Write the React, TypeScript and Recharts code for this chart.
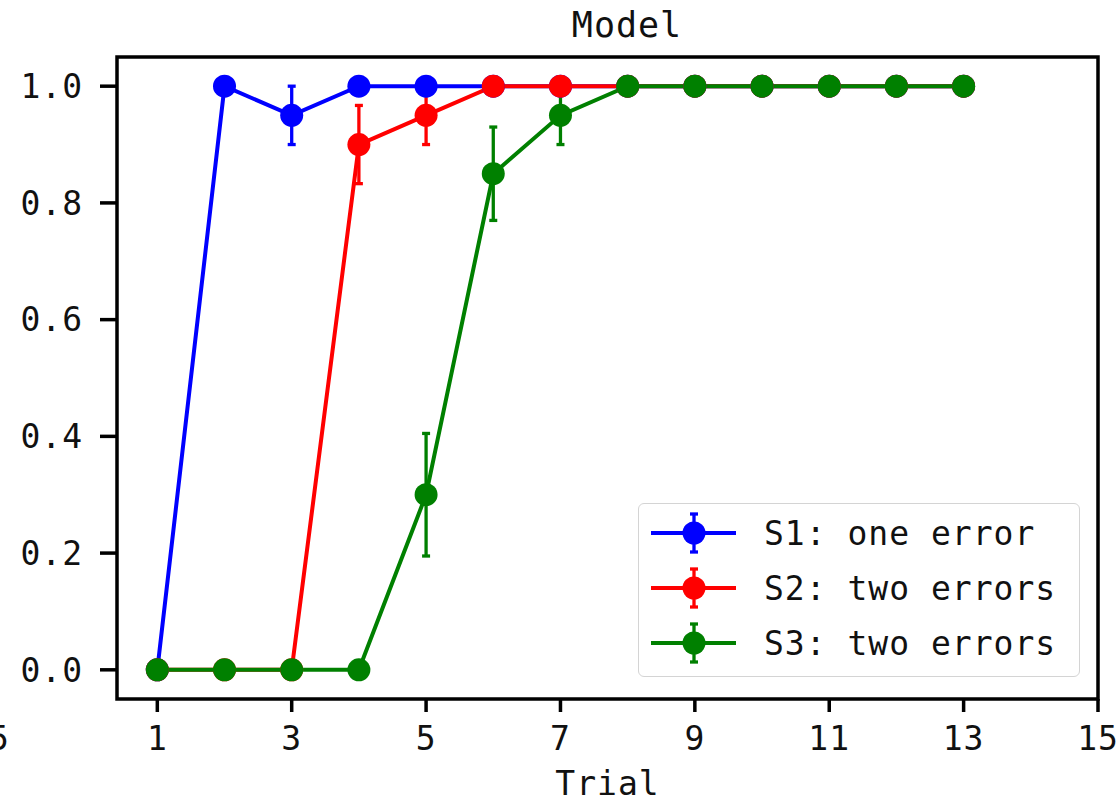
import React from 'react';
import { LineChart, Line, XAxis, YAxis, ErrorBar, ReferenceArea, Legend } from 'recharts';

const trials = [1, 2, 3, 4, 5, 6, 7, 8, 9, 10, 11, 12, 13];
const s1Values = [0, 1, 0.95, 1, 1, 1, 1, 1, 1, 1, 1, 1, 1];
const s1Errors = [0, 0, 0.05, 0, 0, 0, 0, 0, 0, 0, 0, 0, 0];
const s2Values = [0, 0, 0, 0.9, 0.95, 1, 1, 1, 1, 1, 1, 1, 1];
const s2Errors = [0, 0, 0, 0.067, 0.05, 0, 0, 0, 0, 0, 0, 0, 0];
const s3Values = [0, 0, 0, 0, 0.3, 0.85, 0.95, 1, 1, 1, 1, 1, 1];
const s3Errors = [0, 0, 0, 0, 0.105, 0.08, 0.05, 0, 0, 0, 0, 0, 0];

const xTicks = [1, 3, 5, 7, 9, 11, 13, 15];
const yTicks = [0, 0.2, 0.4, 0.6, 0.8, 1.0];

const series = [
  { key: 's1', err: 'e1', name: 'S1: one error', color: '#0000ff' },
  { key: 's2', err: 'e2', name: 'S2: two errors', color: '#ff0000' },
  { key: 's3', err: 'e3', name: 'S3: two errors', color: '#008000' },
];

const data = trials.map((t, i) => ({
  trial: t,
  s1: s1Values[i],
  e1: s1Errors[i],
  s2: s2Values[i],
  e2: s2Errors[i],
  s3: s3Values[i],
  e3: s3Errors[i],
}));

const FONT = '"DejaVu Sans Mono", monospace';
const tickStyle = { fill: '#111', fontSize: 33, fontFamily: FONT, letterSpacing: 1 };

function LegendBox({ payload }: any) {
  return (
    <div
      style={{
        boxSizing: 'border-box',
        width: 442,
        height: 174,
        border: '1.5px solid #d4d4d4',
        borderRadius: 6,
        background: 'rgba(255,255,255,0.85)',
        paddingTop: 2,
      }}
    >
      {(payload || []).map((entry: any) => (
        <div key={entry.value} style={{ display: 'flex', alignItems: 'center', height: 55 }}>
          <svg width={125} height={55}>
            <line x1={12} x2={97} y1={27} y2={27} stroke={entry.color} strokeWidth={4} />
            <line x1={55} x2={55} y1={8} y2={46} stroke={entry.color} strokeWidth={3.3} />
            <line x1={51} x2={59} y1={8} y2={8} stroke={entry.color} strokeWidth={3.3} />
            <line x1={51} x2={59} y1={46} y2={46} stroke={entry.color} strokeWidth={3.3} />
            <circle cx={55} cy={27} r={11.5} fill={entry.color} />
          </svg>
          <span style={{ fontFamily: FONT, fontSize: 33, letterSpacing: 1, color: '#111' }}>
            {entry.value}
          </span>
        </div>
      ))}
    </div>
  );
}

export default function App() {
  return (
    <div
      style={{
        position: 'absolute',
        left: 0,
        top: 0,
        width: 1119,
        height: 804,
        overflow: 'hidden',
        background: '#fff',
        fontFamily: FONT,
      }}
    >
      <div
        style={{
          position: 'absolute',
          left: 527,
          top: 8,
          width: 200,
          textAlign: 'center',
          fontSize: 35,
          lineHeight: '35px',
          letterSpacing: 1,
          color: '#111',
        }}
      >
        Model
      </div>
      <div
        style={{
          position: 'absolute',
          left: -40,
          top: 722,
          width: 50,
          textAlign: 'right',
          fontSize: 33,
          lineHeight: '33px',
          letterSpacing: 1,
          color: '#111',
        }}
      >
        15
      </div>
      <LineChart width={1119} height={804} data={data} margin={{ top: 57, right: 21, bottom: 0, left: 0 }}>
        <XAxis
          dataKey="trial"
          type="number"
          domain={[0.4, 15]}
          allowDataOverflow
          ticks={xTicks}
          interval={0}
          height={105}
          axisLine={false}
          tickLine={{ stroke: '#000', strokeWidth: 3.5 }}
          tickSize={13}
          tickMargin={15}
          tick={tickStyle}
          label={{ value: 'Trial', position: 'insideBottom', offset: 9, style: { ...tickStyle, fill: '#111' } }}
        />
        <YAxis
          type="number"
          domain={[-0.05, 1.05]}
          allowDataOverflow
          ticks={yTicks}
          interval={0}
          width={117}
          axisLine={false}
          tickLine={{ stroke: '#000', strokeWidth: 3.5 }}
          tickSize={17}
          tickMargin={17}
          tick={tickStyle}
          tickFormatter={(v: number) => v.toFixed(1)}
        />
        {series.map((s) => (
          <Line
            key={s.key}
            type="linear"
            dataKey={s.key}
            name={s.name}
            stroke={s.color}
            strokeWidth={4}
            dot={{ r: 11.5, fill: s.color, stroke: s.color, strokeWidth: 0 }}
            activeDot={false}
            isAnimationActive={false}
          >
            <ErrorBar
              dataKey={s.err}
              direction="y"
              width={4}
              stroke={s.color}
              strokeWidth={3.3}
              style={{ strokeWidth: 3.3 }}
            />
          </Line>
        ))}
        <ReferenceArea
          x1={0.4}
          x2={15}
          y1={-0.05}
          y2={1.05}
          fill="none"
          fillOpacity={0}
          stroke="#000"
          strokeWidth={3.5}
          ifOverflow="visible"
        />
        <Legend
          layout="horizontal"
          verticalAlign="middle"
          content={<LegendBox />}
          wrapperStyle={{ left: 638, top: 503, width: 442, height: 174 }}
        />
      </LineChart>
    </div>
  );
}
